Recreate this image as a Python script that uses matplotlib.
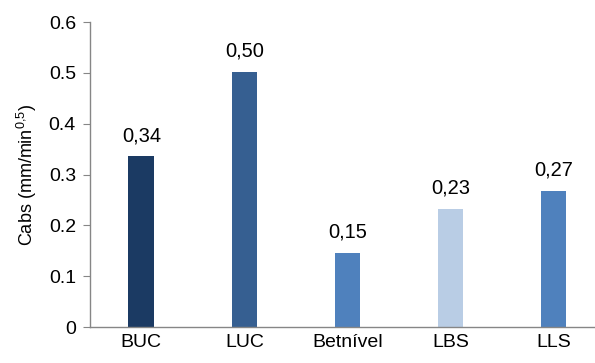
import matplotlib
matplotlib.use("Agg")
import matplotlib.pyplot as plt

plt.rcParams['font.family'] = ['Liberation Sans', 'DejaVu Sans']

categories = ['BUC', 'LUC', 'Betnível', 'LBS', 'LLS']
cabs = [0.336, 0.502, 0.146, 0.233, 0.268]
colors = ['#1B3A63', '#365F91', '#4F81BD', '#B9CDE5', '#4F81BD']

fig = plt.figure(figsize=(5.95, 3.63), dpi=100)
ax = fig.add_axes([0.151, 0.099, 0.866, 0.840])

x = range(len(categories))
ax.bar(x, cabs, width=0.25, color=colors)

# value labels with decimal comma
for xi, v in zip(x, cabs):
    ax.text(xi, v + 0.03, f"{v:.2f}".replace('.', ','), ha='center', va='baseline',
            fontsize=14.5, color='#000000')

ax.set_xlim(-0.5, 4.5)
ax.set_ylim(0, 0.6)
ax.set_yticks([0, 0.1, 0.2, 0.3, 0.4, 0.5, 0.6])
ax.set_yticklabels(['0', '0.1', '0.2', '0.3', '0.4', '0.5', '0.6'])
ax.set_xticks(list(x))
ax.set_xticklabels(categories)
ax.set_ylabel(r'Cabs (mm/min$\mathregular{^{0{,}5}}$)', fontsize=13, labelpad=7)

for side in ['top', 'right']:
    ax.spines[side].set_visible(False)
for side in ['left', 'bottom']:
    ax.spines[side].set_color('#868686')
    ax.spines[side].set_linewidth(1.0)
ax.tick_params(axis='y', direction='out', length=5, color='#868686', labelsize=14, pad=5)
ax.tick_params(axis='x', length=0, labelsize=14, pad=5)

fig.savefig('out.png', dpi=100)
